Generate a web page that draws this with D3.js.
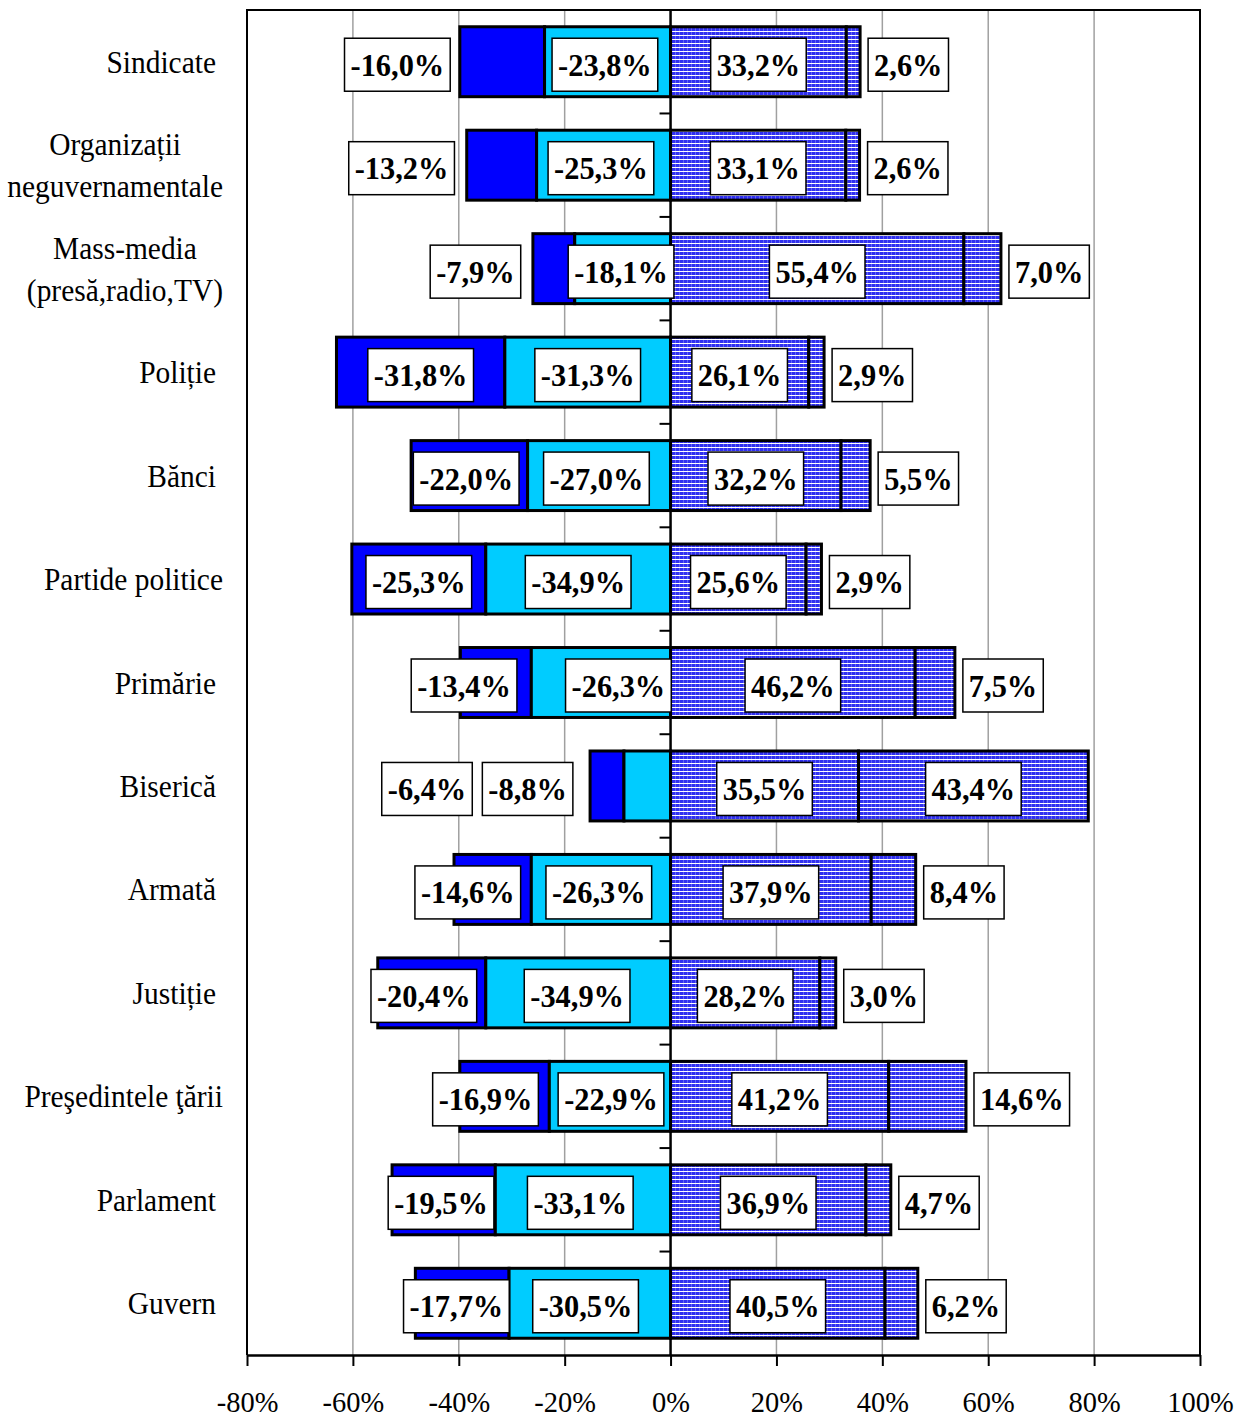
<!DOCTYPE html>
<html>
<head>
<meta charset="utf-8">
<script src="https://cdnjs.cloudflare.com/ajax/libs/d3/7.8.5/d3.min.js"></script>
<style>
  body { margin: 0; background: #fff; }
  svg text { font-family: "Liberation Serif", "Times New Roman", serif; }
</style>
</head>
<body>
<div id="chart"></div>
<script>
// categories, top to bottom
var categories = ["Sindicate", "Organizații\nneguvernamentale", "Mass-media\n(presă,radio,TV)",
  "Poliție", "Bănci", "Partide politice", "Primărie", "Biserică", "Armată", "Justiție",
  "Preşedintele ţării", "Parlament", "Guvern"];

// share of answers (%), negatives to the left of 0
var veryLow  = [-16.0, -13.2, -7.9, -31.8, -22.0, -25.3, -13.4, -6.4, -14.6, -20.4, -16.9, -19.5, -17.7];
var low      = [-23.8, -25.3, -18.1, -31.3, -27.0, -34.9, -26.3, -8.8, -26.3, -34.9, -22.9, -33.1, -30.5];
var high     = [33.2, 33.1, 55.4, 26.1, 32.2, 25.6, 46.2, 35.5, 37.9, 28.2, 41.2, 36.9, 40.5];
var veryHigh = [2.6, 2.6, 7.0, 2.9, 5.5, 2.9, 7.5, 43.4, 8.4, 3.0, 14.6, 4.7, 6.2];

var tickValues = [-80, -60, -40, -20, 0, 20, 40, 60, 80, 100];

// hand-moved data labels (in % units, relative to the segment middle)
var veryLowLabelShift = [-19.8, -18.9, -14.8, 0, -0.6, 0, -6.0, -34.0, -4.7, -1.5, -3.6, -0.5, -1.1];
var lowLabelShift     = [-0.5, -0.5, -0.3, 0, -0.5, 0, 3.3, -22.6, -0.4, -0.2, 0.2, -0.5, -0.8];

var width = 1236, height = 1419;
var plotTop = 10, plotBottom = 1355;

var x = d3.scaleLinear().domain([-80, 100]).range([247, 1200]);
var y = d3.scaleBand().domain(d3.range(categories.length))
    .range([plotTop, plotBottom]).paddingInner(0.324).paddingOuter(0.162);

var svg = d3.select("#chart").append("svg")
    .attr("width", width)
    .attr("height", height);

var defs = svg.append("defs");
var pat = defs.append("pattern")
    .attr("id", "hatch")
    .attr("width", 8).attr("height", 4)
    .attr("patternUnits", "userSpaceOnUse");
pat.append("rect").attr("width", 8).attr("height", 4).attr("fill", "#3030f0");
pat.append("rect").attr("y", 3).attr("width", 8).attr("height", 1).attr("fill", "#ffffff");
pat.append("rect").attr("x", 3).attr("width", 1).attr("height", 3).attr("fill", "#6464f6");
pat.append("rect").attr("x", 7).attr("width", 1).attr("height", 3).attr("fill", "#6464f6");

// gridlines
svg.append("g").selectAll("line")
    .data(tickValues.filter(function(d) { return d !== 0 && d !== -80 && d !== 100; }))
    .enter().append("line")
    .attr("x1", x).attr("x2", x)
    .attr("y1", plotTop).attr("y2", plotBottom)
    .attr("stroke", "#a0a0a0")
    .attr("stroke-width", 1.5);

// plot frame
svg.append("path")
    .attr("d", "M" + x(-80) + "," + plotBottom + "V" + plotTop + "H" + x(100) + "V" + plotBottom)
    .attr("fill", "none")
    .attr("stroke", "#000")
    .attr("stroke-width", 2);

// bottom axis
var axis = svg.append("g")
    .attr("transform", "translate(0," + plotBottom + ")")
    .call(d3.axisBottom(x).tickValues(tickValues).tickSize(11).tickSizeOuter(0)
      .tickFormat(function(d) { return d + "%"; }));
axis.select(".domain").attr("stroke-width", 2.5);
axis.selectAll(".tick line").attr("stroke-width", 2);
axis.selectAll(".tick text")
    .attr("font-family", "'Liberation Serif', 'Times New Roman', serif")
    .attr("font-size", 30)
    .attr("fill", "#000")
    .attr("y", 57).attr("dy", 0)
    .attr("transform", "scale(0.95,1)");

// stacked segments
var segments = [];
categories.forEach(function(c, i) {
  segments.push({ i: i, x0: low[i] + veryLow[i], x1: low[i], fill: "#0000ff" });
  segments.push({ i: i, x0: low[i], x1: 0, fill: "#00ccff" });
  segments.push({ i: i, x0: 0, x1: high[i], fill: "url(#hatch)" });
  segments.push({ i: i, x0: high[i], x1: high[i] + veryHigh[i], fill: "url(#hatch)" });
});

svg.append("g").selectAll("rect")
    .data(segments)
    .enter().append("rect")
    .attr("x", function(d) { return x(d.x0); })
    .attr("width", function(d) { return x(d.x1) - x(d.x0); })
    .attr("y", function(d) { return y(d.i); })
    .attr("height", y.bandwidth())
    .attr("fill", function(d) { return d.fill; })
    .attr("stroke", "#000")
    .attr("stroke-width", 3);

// zero line with category tick marks
svg.append("line")
    .attr("x1", x(0)).attr("x2", x(0))
    .attr("y1", plotTop).attr("y2", plotBottom)
    .attr("stroke", "#000").attr("stroke-width", 2.5);
svg.append("g").selectAll("line")
    .data(d3.range(1, categories.length))
    .enter().append("line")
    .attr("x1", x(0) - 11).attr("x2", x(0))
    .attr("y1", function(i) { return y(i) - y.step() * y.paddingInner() / 2; })
    .attr("y2", function(i) { return y(i) - y.step() * y.paddingInner() / 2; })
    .attr("stroke", "#000").attr("stroke-width", 2);

// category labels
var catG = svg.append("g");
categories.forEach(function(c, i) {
  var lines = c.split("\n");
  var cy = y(i) + y.bandwidth() / 2;
  var g = catG.append("g");
  var texts = lines.map(function(l) {
    return g.append("text")
      .attr("font-size", 32)
      .attr("text-anchor", "middle")
      .attr("fill", "#000")
      .text(l);
  });
  var scale = 0.92;
  var widths = texts.map(function(t) { return t.node().getComputedTextLength() * scale; });
  var maxW = d3.max(widths);
  // wide labels sit a little further right in the original
  var right = (lines.length > 1 || maxW > 170) ? 223 : 216;
  var cx = right - maxW / 2;
  texts.forEach(function(t, k) {
    var base = cy + 11 + (k - (lines.length - 1) / 2) * 42;
    t.attr("transform", "translate(" + cx + "," + base + ") scale(" + scale + ",1)");
  });
});

// data labels
var fmt = d3.format(".1f");
function pct(v) { return fmt(v).replace("\u2212", "-").replace(".", ",") + "%"; }

var labG = svg.append("g");
function addLabel(i, value, place) {
  var cy = y(i) + y.bandwidth() / 2 + 3;
  var g = labG.append("g");
  var box = g.append("rect")
      .attr("fill", "#fff")
      .attr("stroke", "#000")
      .attr("stroke-width", 1.5);
  var t = g.append("text")
      .attr("font-size", 32)
      .attr("font-weight", "bold")
      .attr("text-anchor", "middle")
      .attr("fill", "#000")
      .attr("y", 11)
      .attr("transform", "scale(0.95,1)")
      .text(pct(value));
  var w = t.node().getComputedTextLength() * 0.95 + 12;
  box.attr("x", -w / 2).attr("y", -26.5).attr("width", w).attr("height", 53);
  var cx = place(w);
  g.attr("transform", "translate(" + cx + "," + cy + ")");
}

categories.forEach(function(c, i) {
  addLabel(i, veryLow[i], function() {
    return x(low[i] + veryLow[i] / 2 + veryLowLabelShift[i]);
  });
  addLabel(i, low[i], function() {
    return x(low[i] / 2 + lowLabelShift[i]);
  });
  addLabel(i, high[i], function() {
    return x(high[i] / 2);
  });
  addLabel(i, veryHigh[i], function(w) {
    var segW = x(high[i] + veryHigh[i]) - x(high[i]);
    if (segW >= w + 10) return x(high[i] + veryHigh[i] / 2);
    return x(high[i] + veryHigh[i]) + 8 + w / 2;
  });
});
</script>
</body>
</html>
